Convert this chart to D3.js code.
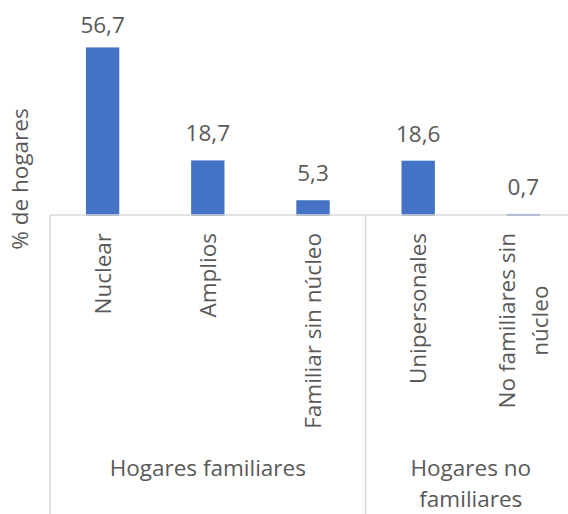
<!DOCTYPE html>
<html>
<head>
<meta charset="utf-8">
<script src="https://d3js.org/d3.v7.min.js"></script>
<style>
  body { margin: 0; background: #fff; }
  svg text { font-family: "Open Sans", sans-serif; fill: #595959; }
</style>
</head>
<body>
<div id="chart"></div>
<script>
// data
var categories = ["Nuclear", "Amplios", "Familiar sin núcleo", "Unipersonales", "No familiares sin núcleo"];
var values = [56.7, 18.7, 5.3, 18.6, 0.7];
var valueLabels = ["56,7", "18,7", "5,3", "18,6", "0,7"];
// wrapped lines for the tick labels
var tickLines = [["Nuclear"], ["Amplios"], ["Familiar sin núcleo"], ["Unipersonales"], ["No familiares sin", "núcleo"]];
var groups = [
  {lines: ["Hogares familiares"], from: 0, to: 2},
  {lines: ["Hogares no", "familiares"], from: 3, to: 4}
];
var yTitle = "% de hogares";

var svgWidth = 568;
var svgHeight = 514;
var fontSize = "22.5px";

var svg = d3.select("#chart").append("svg")
            .attr("width", svgWidth)
            .attr("height", svgHeight);

var xScale = d3.scaleBand()
               .domain(categories)
               .range([50, 576])
               .paddingInner(0.683)
               .paddingOuter(0.683 / 2);

var yScale = d3.scaleLinear()
               .domain([0, 60])
               .range([216, 37.6]);

var step = xScale.step();
var baseY = 215;

// bars
svg.selectAll("rect.bar")
   .data(values)
   .enter()
   .append("rect")
   .attr("class", "bar")
   .attr("x", (d, i) => xScale(categories[i]))
   .attr("y", d => yScale(d))
   .attr("width", xScale.bandwidth())
   .attr("height", d => yScale(0) - yScale(d))
   .attr("fill", "#4472c4");

// value labels
svg.selectAll("text.val")
   .data(values)
   .enter()
   .append("text")
   .attr("class", "val")
   .attr("x", (d, i) => xScale(categories[i]) + xScale.bandwidth() / 2)
   .attr("y", d => Math.max(yScale(d) - 19, 33))
   .attr("text-anchor", "middle")
   .style("font-size", fontSize)
   .text((d, i) => valueLabels[i]);

// axis lines
var axisColor = "#d9d9d9";
svg.append("line")
   .attr("x1", 50).attr("x2", svgWidth)
   .attr("y1", baseY).attr("y2", baseY)
   .attr("stroke", axisColor).attr("stroke-width", 1.5);

var sepX = [50].concat(groups.slice(1).map(g => xScale(categories[g.from]) - (step - xScale.bandwidth()) / 2));
svg.selectAll("line.sep")
   .data(sepX)
   .enter()
   .append("line")
   .attr("class", "sep")
   .attr("x1", d => d).attr("x2", d => d)
   .attr("y1", baseY).attr("y2", svgHeight)
   .attr("stroke", axisColor).attr("stroke-width", 1.5);

// rotated tick labels
var lineH = 33;
tickLines.forEach(function(lines, i) {
  var cx = xScale(categories[i]) + xScale.bandwidth() / 2;
  var firstW = 0;
  lines.forEach(function(line, j) {
    var off = (j - (lines.length - 1) / 2) * lineH;
    var t = svg.append("text")
       .attr("dy", "0.36em")
       .style("font-size", fontSize)
       .text(line);
    if (j == 0) {
      firstW = t.node().getComputedTextLength();
      t.attr("text-anchor", "end")
       .attr("transform", `translate(${cx + off},233) rotate(-90)`);
    } else {
      // centre under the first line
      t.attr("text-anchor", "middle")
       .attr("transform", `translate(${cx + off},${233 + firstW / 2}) rotate(-90)`);
    }
  });
});

// group labels
groups.forEach(function(g) {
  var x0 = xScale(categories[g.from]) - (step - xScale.bandwidth()) / 2;
  var x1 = x0 + step * (g.to - g.from + 1);
  g.lines.forEach(function(line, j) {
    svg.append("text")
       .attr("x", (x0 + x1) / 2)
       .attr("y", 476 + j * 31)
       .attr("text-anchor", "middle")
       .style("font-size", fontSize)
       .text(line);
  });
});

// y title
svg.append("text")
   .attr("transform", "translate(28,179) rotate(-90)")
   .attr("text-anchor", "middle")
   .style("font-size", fontSize)
   .text(yTitle);
</script>
</body>
</html>
